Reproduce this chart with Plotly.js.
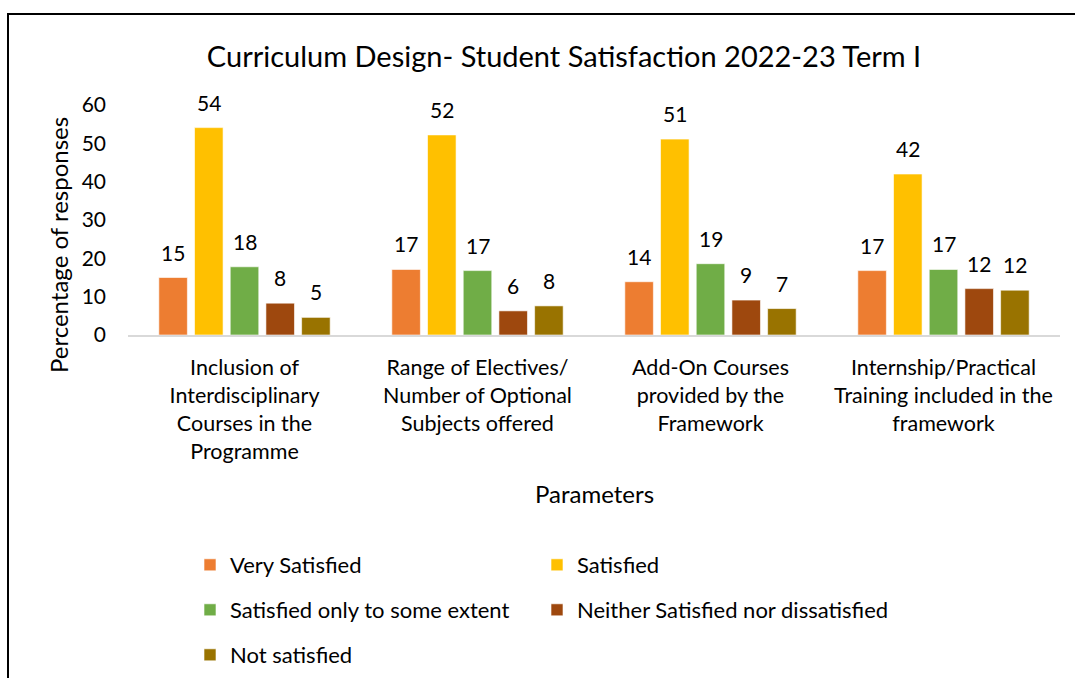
<!DOCTYPE html>
<html>
<head>
<meta charset="utf-8">
<script src="https://cdn.plot.ly/plotly-3.0.1.min.js"></script>
<style>
  html, body { margin: 0; padding: 0; overflow: hidden; background: #fff; }
  #chart { width: 1075px; height: 678px; position: absolute; left: 0; top: 0; }
  #frame { position: absolute; left: 7px; top: 13px; width: 1200px; height: 800px;
           border: 2px solid #000; pointer-events: none; z-index: 10; }
</style>
</head>
<body>
<div id="chart"></div>
<div id="frame"></div>
<script>
const categories = [
  "Inclusion of<br>Interdisciplinary<br>Courses in the<br>Programme",
  "Range of Electives/<br>Number of Optional<br>Subjects offered",
  "Add-On Courses<br>provided by the<br>Framework",
  "Internship/Practical<br>Training included in the<br>framework"
];
const seriesNames = [
  "Very Satisfied",
  "Satisfied",
  "Satisfied only to some extent",
  "Neither Satisfied nor dissatisfied",
  "Not satisfied"
];
const verySatisfied = [15.0, 17.1, 13.9, 16.8];
const satisfied = [54.1, 52.2, 51.1, 42.0];
const someExtent = [17.8, 16.8, 18.6, 17.1];
const neither = [8.3, 6.3, 9.1, 12.1];
const notSatisfied = [4.6, 7.6, 6.9, 11.7];
const seriesValues = [verySatisfied, satisfied, someExtent, neither, notSatisfied];
const colors = ["#ED7D31", "#FFC000", "#70AD47", "#9E480E", "#997300"];
const legendIds = ["legend", "legend2", "legend3", "legend4", "legend5"];
// legend grid: [column, row]
const legendCells = [[0, 0], [1, 0], [0, 1], [1, 1], [0, 2]];

const FONT = "Lato, 'Open Sans', sans-serif";
const W = 1075, H = 678;
const mL = 128, mR = 15, mT = 105, mB = 343;
const plotW = W - mL - mR;
const bargap = 0.234;
const slot = (plotW / categories.length) * (1 - bargap) / seriesNames.length;

const traces = seriesNames.map((name, i) => ({
  type: "bar",
  name: name,
  x: categories,
  y: seriesValues[i],
  marker: { color: colors[i], line: { color: "rgba(255,255,255,0.6)", width: 1 } },
  legend: legendIds[i],
  hoverinfo: "skip"
}));

const annotations = [];
seriesValues.forEach((vals, i) => {
  vals.forEach((v, j) => {
    annotations.push({
      x: categories[j], y: v, xref: "x", yref: "y",
      text: String(Math.round(v)),
      showarrow: false, yanchor: "bottom",
      xshift: (i - 2) * slot, yshift: 11,
      font: { family: FONT, size: 21, color: "#000" }
    });
  });
});
annotations.push({
  text: "Percentage of responses", xref: "paper", yref: "paper",
  x: (58 - mL) / plotW, y: (335 - 245) / 230, textangle: -90,
  showarrow: false, xanchor: "center", yanchor: "middle",
  font: { family: FONT, size: 24, color: "#000" }
});
annotations.push({
  text: "Parameters", xref: "paper", yref: "paper",
  x: 0.5, y: (335 - 493) / 230,
  showarrow: false, xanchor: "center", yanchor: "middle",
  font: { family: FONT, size: 24, color: "#000" }
});

const layout = {
  width: W, height: H,
  margin: { l: mL, r: mR, t: mT, b: mB, autoexpand: false },
  paper_bgcolor: "#fff", plot_bgcolor: "#fff",
  font: { family: FONT, color: "#000" },
  title: {
    text: "Curriculum Design- Student Satisfaction 2022-23 Term I",
    xref: "container", x: 564 / W, xanchor: "center",
    yref: "container", y: 1 - 57 / H, yanchor: "middle",
    font: { family: FONT, size: 29, color: "#000" }
  },
  barmode: "group", bargap: bargap, bargroupgap: 0.2,
  xaxis: {
    tickfont: { family: FONT, size: 21.5, color: "#000" },
    showline: true, linecolor: "#D9D9D9", linewidth: 2,
    ticks: "", showgrid: false, automargin: false, fixedrange: true,
    ticklabelstandoff: 12
  },
  yaxis: {
    range: [0, 60], dtick: 10, tick0: 0,
    tickfont: { family: FONT, size: 21, color: "#000" },
    showgrid: false, zeroline: false, showline: false,
    ticks: "", ticklabelstandoff: 21, automargin: false, fixedrange: true
  },
  annotations: annotations,
  showlegend: true
};

legendIds.forEach((id, i) => {
  const col = legendCells[i][0], row = legendCells[i][1];
  layout[id] = {
    orientation: "h",
    xref: "container", yref: "container",
    xanchor: "left", yanchor: "middle",
    x: (190 + col * 347) / W,
    y: 1 - (565 + row * 45) / H,
    font: { family: FONT, size: 22, color: "#000" },
    bgcolor: "rgba(0,0,0,0)", itemclick: false, itemdoubleclick: false
  };
});

Plotly.newPlot("chart", traces, layout, { displayModeBar: false, staticPlot: true });
</script>
</body>
</html>
